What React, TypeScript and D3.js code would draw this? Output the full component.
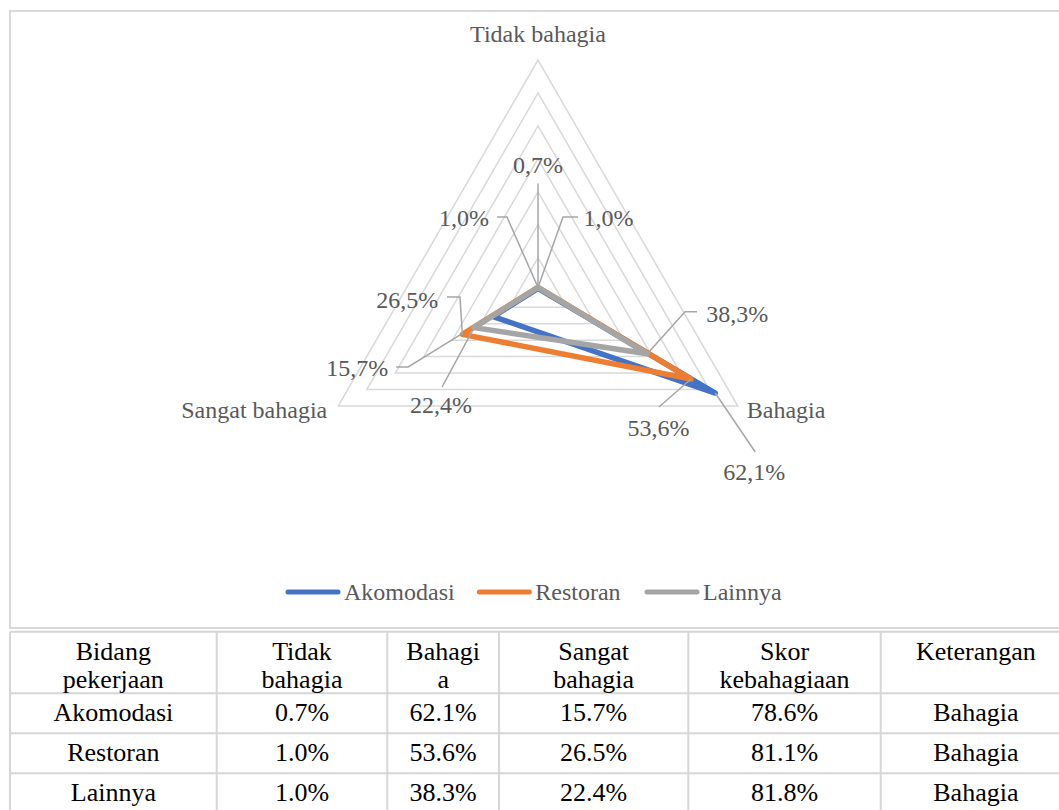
import React from "react";
import * as d3 from "d3";

// radar axes + series (percent)
const axes = ["Tidak bahagia", "Bahagia", "Sangat bahagia"];
const seriesNames = ["Akomodasi", "Restoran", "Lainnya"];
const akomodasi = [0.7, 62.1, 15.7];
const restoran = [1.0, 53.6, 26.5];
const lainnya = [1.0, 38.3, 22.4];
const gridLevels = [10, 20, 30, 40, 50, 60, 70];

// table below the chart
const tableHeader = [
  ["Bidang", "pekerjaan"],
  ["Tidak", "bahagia"],
  ["Bahagi", "a"],
  ["Sangat", "bahagia"],
  ["Skor", "kebahagiaan"],
  ["Keterangan"],
];
const skor = [78.6, 81.1, 81.8];
const keterangan = ["Bahagia", "Bahagia", "Bahagia"];

const colors = ["#4472C4", "#ED7D31", "#A5A5A5"];
const textColor = "#595959";
const serif = { fontFamily: "'Liberation Serif', 'Times New Roman', 'DejaVu Serif', serif" };

// label placement: offset of label from its point and leader path (relative)
const labelPlacement = [
  [
    { dx: 0, dy: -123, leader: [[0, -105], [0, 0]] },
    { dx: 39, dy: 79, leader: [[0, 0], [40, 59]] },
    { dx: -136, dy: 51, leader: [[-97, 50.4], [-85, 50.4], [-31, 17]] },
  ],
  [
    { dx: 70.5, dy: -69, leader: [[40, -70.4], [25, -70.4], [0, 0]] },
    { dx: -32.4, dy: 49, leader: [[-32, 28], [0, 0]] },
    { dx: -55, dy: -34, leader: [[-15.4, -37.3], [-2.4, -37.3], [0, 0]] },
  ],
  [
    { dx: -74, dy: -69, leader: [[-41, -70.4], [-31, -70.4], [0, 0]] },
    { dx: 90, dy: -40, leader: [[49.7, -42], [37.7, -42], [0, 0]] },
    { dx: -33, dy: 77, leader: [[-32, 59.4], [0, 0]] },
  ],
];

const cx = 538;
const cy = 290.7;
const R = 230.7;

const colX = [10, 216.7, 387.3, 499, 688.3, 880.7, 1071];
const rowY = [631.7, 693.3, 733.3, 773.3, 813.3];

export default function App() {
  const series = [akomodasi, restoran, lainnya];
  const r = d3.scaleLinear().domain([0, 70]).range([0, R]);
  const angle = d3
    .scalePoint<string>()
    .domain(axes)
    .range([0, (2 * Math.PI * 2) / 3]);

  const radial = d3
    .lineRadial<number>()
    .angle((_, i) => angle(axes[i]) as number)
    .radius((d) => r(d))
    .curve(d3.curveLinearClosed);

  const pt = (v: number, i: number) => {
    const a = angle(axes[i]) as number;
    return [cx + r(v) * Math.sin(a), cy - r(v) * Math.cos(a)];
  };

  const fmt = (v: number) => v.toFixed(1).replace(".", ",") + "%";

  const legendX = [286, 477.3, 645];

  const rows = seriesNames.map((n, i) => [
    n,
    series[i][0].toFixed(1) + "%",
    series[i][1].toFixed(1) + "%",
    series[i][2].toFixed(1) + "%",
    skor[i].toFixed(1) + "%",
    keterangan[i],
  ]);

  return (
    <svg
      width={1059}
      height={810}
      style={{ position: "absolute", left: 0, top: 0, background: "#fff" }}
    >
      <rect x={10} y={11} width={1070} height={617} fill="#fff" stroke="#d9d9d9" strokeWidth={2} />

      {/* grid triangles */}
      <g transform={`translate(${cx},${cy})`}>
        {gridLevels.map((lv) => (
          <path
            key={lv}
            d={radial(axes.map(() => lv)) as string}
            fill="none"
            stroke="#d9d9d9"
            strokeWidth={1.5}
          />
        ))}
      </g>

      {/* axis labels */}
      <text x={pt(70, 0)[0]} y={42} textAnchor="middle" fontSize={24} fill={textColor} style={serif}>
        {axes[0]}
      </text>
      <text x={pt(70, 1)[0] + 9} y={pt(70, 1)[1] + 12} fontSize={24} fill={textColor} style={serif}>
        {axes[1]}
      </text>
      <text x={pt(70, 2)[0] - 11} y={pt(70, 2)[1] + 12} textAnchor="end" fontSize={24} fill={textColor} style={serif}>
        {axes[2]}
      </text>

      {/* series */}
      <g transform={`translate(${cx},${cy})`}>
        {series.map((s, si) => (
          <path
            key={si}
            d={radial(s) as string}
            fill="none"
            stroke={colors[si]}
            strokeWidth={5.5}
            strokeLinejoin="round"
          />
        ))}
      </g>

      {/* data labels with leader lines */}
      {series.map((s, si) =>
        s.map((v, ai) => {
          const [px, py] = pt(v, ai);
          const p = labelPlacement[si][ai];
          const lead = p.leader.map(([dx, dy]) => [px + dx, py + dy] as [number, number]);
          return (
            <g key={`${si}-${ai}`}>
              <path d={d3.line()(lead) as string} fill="none" stroke="#a6a6a6" strokeWidth={1.5} />
              <text
                x={px + p.dx}
                y={py + p.dy + 8}
                textAnchor="middle"
                fontSize={24}
                fill={textColor}
                style={serif}
              >
                {fmt(v)}
              </text>
            </g>
          );
        })
      )}

      {/* legend */}
      {seriesNames.map((n, i) => (
        <g key={n}>
          <line
            x1={legendX[i] + 2}
            x2={legendX[i] + 52}
            y1={592}
            y2={592}
            stroke={colors[i]}
            strokeWidth={5}
            strokeLinecap="round"
          />
          <text x={legendX[i] + 58} y={600} fontSize={24} fill={textColor} style={serif}>
            {n}
          </text>
        </g>
      ))}

      {/* table */}
      <g stroke="#d6d6d6" strokeWidth={2}>
        {rowY.map((y, i) => (
          <line key={"h" + i} x1={colX[0]} x2={colX[colX.length - 1]} y1={y} y2={y} />
        ))}
        {colX.map((x, i) => (
          <line key={"v" + i} x1={x} x2={x} y1={rowY[0]} y2={rowY[rowY.length - 1]} />
        ))}
      </g>
      <g fontSize={26} fill="#000" textAnchor="middle">
        {tableHeader.map((lines, ci) =>
          lines.map((t, li) => (
            <text key={ci + "-" + li} x={(colX[ci] + colX[ci + 1]) / 2} y={rowY[0] + 28.5 + li * 28} style={serif}>
              {t}
            </text>
          ))
        )}
        {rows.map((row, ri) =>
          row.map((t, ci) => (
            <text key={ri + "-" + ci} x={(colX[ci] + colX[ci + 1]) / 2} y={rowY[ri + 1] + 27.5} style={serif}>
              {t}
            </text>
          ))
        )}
      </g>
    </svg>
  );
}
